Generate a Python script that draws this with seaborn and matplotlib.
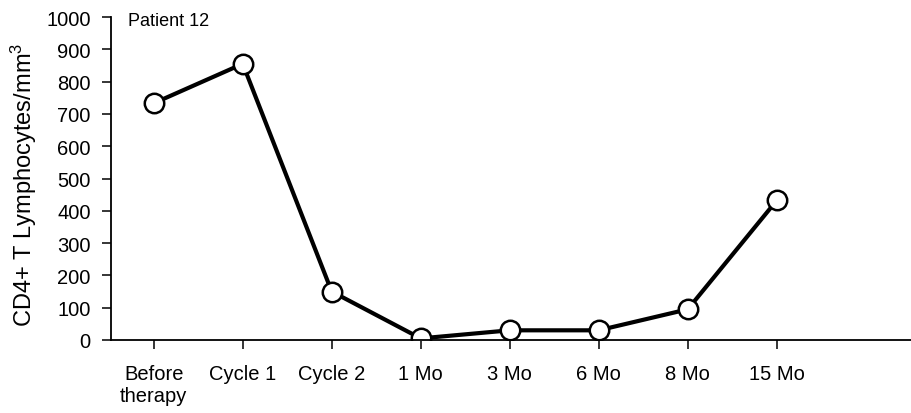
import matplotlib
matplotlib.use("Agg")
import matplotlib.pyplot as plt
import seaborn as sns
import pandas as pd

# Time points and CD4+ counts for patient 12
timepoints = ["Before\ntherapy", "Cycle 1", "Cycle 2", "1 Mo", "3 Mo", "6 Mo", "8 Mo", "15 Mo"]
cd4_counts = [733, 855, 150, 5, 30, 30, 95, 432]
y_ticks = [0, 100, 200, 300, 400, 500, 600, 700, 800, 900, 1000]

sns.set_theme(style="ticks")
plt.rcParams["font.family"] = ["Liberation Sans", "DejaVu Sans"]

df = pd.DataFrame({"timepoint": timepoints, "cd4": cd4_counts})

fig = plt.figure(figsize=(9.12, 4.14), dpi=100)
ax = fig.add_axes([111 / 912, 73 / 414, 801 / 912, 323 / 414])

sns.lineplot(
    data=df, x="timepoint", y="cd4", ax=ax, sort=False,
    color="black", linewidth=3.0,
    marker="o", markersize=14, markerfacecolor="white",
    markeredgecolor="black", markeredgewidth=1.8,
)

ax.set_xlim(-0.48, 8.52)
ax.set_ylim(0, 1000)
ax.set_yticks(y_ticks)
ax.set_xticks(range(len(timepoints)))
ax.set_xticklabels(timepoints, linespacing=1.2)

for s in ("top", "right"):
    ax.spines[s].set_visible(False)
for s in ("left", "bottom"):
    ax.spines[s].set_linewidth(1.3)
    ax.spines[s].set_color("black")

ax.tick_params(axis="both", direction="out", length=6.5, width=1.1,
               colors="black", labelsize=14.5, pad=8)
ax.tick_params(axis="x", pad=11)

ax.set_xlabel("")
ax.set_ylabel(r"CD4+ T Lymphocytes/mm$\mathregular{^3}$", fontsize=17, color="black")
ax.yaxis.set_label_coords(-0.09, 0.485)

ax.text(-0.29, 975, "Patient 12", fontsize=13, color="black", va="baseline", ha="left")

fig.savefig("out.png", dpi=100)
